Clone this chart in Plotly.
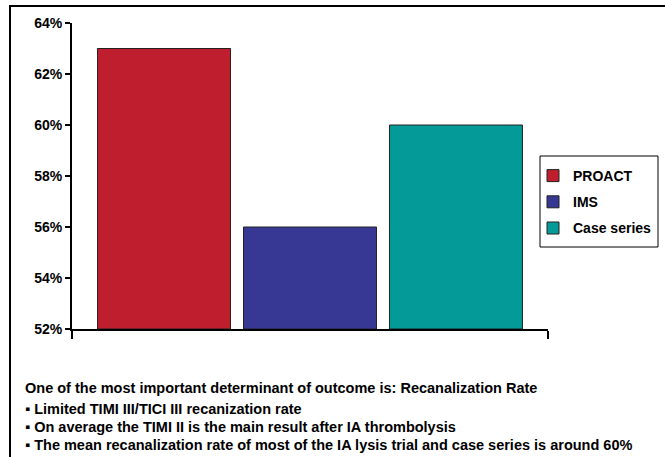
import plotly.graph_objects as go

categories = ["Recanalization Rate"]
series_names = ["PROACT", "IMS", "Case series"]
series_values = [63, 56, 60]
series_colors = ["#BE1E2D", "#373894", "#039A97"]
y_ticks = [52, 54, 56, 58, 60, 62, 64]
notes = [
    "One of the most important determinant of outcome is: Recanalization Rate",
    "\u25aa Limited TIMI III/TICI III recanization rate",
    "\u25aa On average the TIMI II is the main result after IA thrombolysis",
    "\u25aa The mean recanalization rate of most of the IA lysis trial and case series is around 60%",
]

W, H = 665, 457
L, T = 72, 23
R = W - 548
B = H - 329
pw, ph = W - L - R, H - T - B

def px(x):
    return (x - L) / pw

def py(y):
    return (H - B - y) / ph

fig = go.Figure()
for name, val, col in zip(series_names, series_values, series_colors):
    fig.add_trace(go.Bar(
        x=categories, y=[val - 52], base=52, name=f"<b>{name}</b>",
        marker=dict(color=col, line=dict(color="#222222", width=1)),
        legendgroup=name,
    ))

font = "Liberation Sans, Arial, sans-serif"
fig.update_layout(
    width=W, height=H,
    margin=dict(l=L, r=R, t=T, b=B, autoexpand=False),
    paper_bgcolor="white", plot_bgcolor="white",
    barmode="group", bargap=0.08, bargroupgap=0.089,
    font=dict(family=font, color="black", size=14),
    showlegend=True,
    legend=dict(
        x=px(533), y=py(160), xanchor="left", yanchor="top",
        bgcolor="rgba(0,0,0,0)", borderwidth=0,
        font=dict(family=font, size=14, color="black"),
        tracegroupgap=5, traceorder="grouped",
        itemclick=False,
    ),
    xaxis=dict(
        showline=True, linecolor="black", linewidth=2,
        ticks="outside", tickson="boundaries", ticklen=8, tickwidth=2, tickcolor="black",
        showticklabels=False, showgrid=False, zeroline=False,
    ),
    yaxis=dict(
        range=[52, 64], tickvals=y_ticks, ticktext=[f"<b>{v}%</b>" for v in y_ticks],
        showline=True, linecolor="black", linewidth=2,
        ticks="outside", ticklen=5, tickwidth=2, tickcolor="black",
        showgrid=False, zeroline=False,
        tickfont=dict(family=font, size=14, color="black"),
    ),
)

# outer frame
fig.add_shape(type="rect", xref="paper", yref="paper",
              x0=px(10), x1=px(720), y0=py(6), y1=py(560),
              line=dict(color="black", width=2), fillcolor="rgba(0,0,0,0)", layer="below")
# legend box
fig.add_shape(type="rect", xref="paper", yref="paper",
              x0=px(540), x1=px(658), y0=py(156), y1=py(247),
              line=dict(color="black", width=1), fillcolor="white", layer="below")

for txt, ypix in zip(notes, [388, 409, 427, 445]):
    fig.add_annotation(
        text=f"<b>{txt}</b>", xref="paper", yref="paper",
        x=px(23), y=py(ypix), xanchor="left", yanchor="middle",
        showarrow=False, font=dict(family=font, size=14.5, color="black"),
    )

fig.write_html(
    "out.html",
    config={"displayModeBar": False},
    post_script="document.body.style.margin='0';document.body.style.overflow='hidden';",
)
